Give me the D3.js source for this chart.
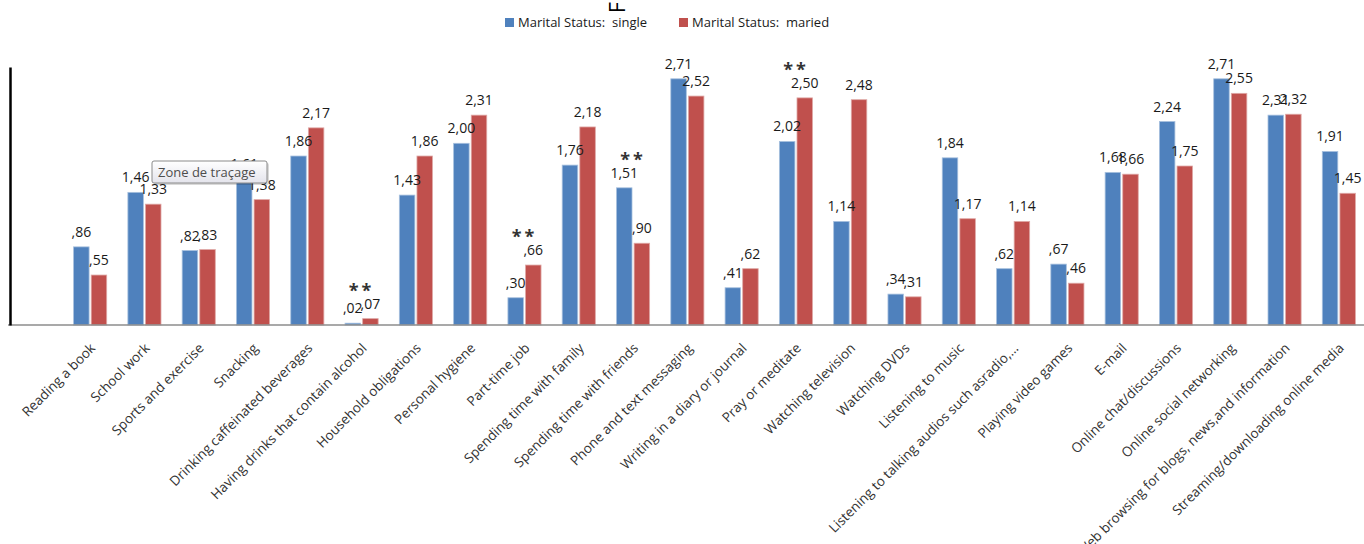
<!DOCTYPE html>
<html>
<head>
<meta charset="utf-8">
<script src="https://cdn.jsdelivr.net/npm/d3@7"></script>
<style>
  body { margin: 0; background: #fff; }
  text { font-family: "Open Sans", "Noto Sans", sans-serif; white-space: pre; }
</style>
</head>
<body>
<svg id="chart"></svg>
<script>
// categories and values
const categories = [
  "Reading a book", "School work", "Sports and exercise", "Snacking",
  "Drinking caffeinated beverages", "Having drinks that contain alcohol",
  "Household obligations", "Personal hygiene", "Part-time job",
  "Spending time with family", "Spending time with friends",
  "Phone and text messaging", "Writing in a diary or journal",
  "Pray or meditate", "Watching television", "Watching DVDs",
  "Listening to music", "Listening to talking audios such asradio,…",
  "Playing video games", "E-mail", "Online chat/discussions",
  "Online social networking", "Web browsing for blogs, news,and information",
  "Streaming/downloading online media"
];
const single = [0.86, 1.46, 0.82, 1.61, 1.86, 0.02, 1.43, 2.00, 0.30, 1.76, 1.51, 2.71,
                0.41, 2.02, 1.14, 0.34, 1.84, 0.62, 0.67, 1.68, 2.24, 2.71, 2.31, 1.91];
const maried = [0.55, 1.33, 0.83, 1.38, 2.17, 0.07, 1.86, 2.31, 0.66, 2.18, 0.90, 2.52,
                0.62, 2.50, 2.48, 0.31, 1.17, 1.14, 0.46, 1.66, 1.75, 2.55, 2.32, 1.45];
const seriesNames = ["Marital Status:  single", "Marital Status:  maried"];
const seriesColors = ["#4F81BD", "#C0504D"];
// categories marked with ** in the picture
const starred = ["Having drinks that contain alcohol", "Part-time job",
                 "Spending time with friends", "Pray or meditate"];

const svgWidth = 1364, svgHeight = 544;
const baseY = 325;

const svg = d3.select("#chart")
    .attr("width", svgWidth)
    .attr("height", svgHeight);

const x0 = d3.scaleBand()
    .domain(categories)
    .range([63, 1366])
    .paddingInner(0.39)
    .paddingOuter(0.195);

const x1 = d3.scaleBand()
    .domain([0, 1])
    .range([0, x0.bandwidth()])
    .paddingInner(0.12);

const y = d3.scaleLinear()
    .domain([0, 2.84])
    .range([baseY, 67]);

const fmt = v => v.toFixed(2).replace(".", ",").replace(/^0/, "");

const rows = categories.map((c, i) => ({ cat: c, vals: [single[i], maried[i]] }));

// cut-off title at the top
svg.append("text")
    .attr("transform", "translate(625,13) rotate(-90)")
    .attr("font-size", 21)
    .attr("fill", "#000")
    .text("F");

// legend
const legend = svg.append("g");
[505, 679].forEach((lx, i) => {
    legend.append("rect")
        .attr("x", lx).attr("y", 18)
        .attr("width", 9).attr("height", 9)
        .attr("fill", seriesColors[i]);
    legend.append("text")
        .attr("x", lx + 13).attr("y", 27)
        .attr("font-size", 13)
        .attr("fill", "#1a1a1a")
        .text(seriesNames[i]);
});

// bars
const groups = svg.selectAll(".grp")
    .data(rows)
    .enter()
    .append("g")
    .attr("class", "grp")
    .attr("transform", d => `translate(${x0(d.cat)},0)`);

groups.selectAll("rect")
    .data(d => d.vals.map((v, k) => ({ v, k })))
    .enter()
    .append("rect")
    .attr("x", d => x1(d.k))
    .attr("y", d => y(d.v))
    .attr("width", x1.bandwidth())
    .attr("height", d => baseY - y(d.v))
    .attr("fill", d => seriesColors[d.k])
    .attr("stroke", d => d.k == 0 ? "#a7c0de" : "#dfa8a6")
    .attr("stroke-width", 0.8);

groups.selectAll(".val")
    .data(d => d.vals.map((v, k) => ({ v, k })))
    .enter()
    .append("text")
    .attr("class", "val")
    .attr("x", d => x1(d.k) + x1.bandwidth() / 2)
    .attr("y", d => y(d.v) - 10)
    .attr("text-anchor", "middle")
    .attr("font-size", 14)
    .attr("fill", "#1a1a1a")
    .text(d => fmt(d.v));

// significance stars
svg.selectAll(".star")
    .data(rows.filter(d => starred.includes(d.cat)))
    .enter()
    .append("text")
    .attr("class", "star")
    .attr("x", d => x0(d.cat) + x0.bandwidth() / 2)
    .attr("y", d => y(d3.max(d.vals)) - 22)
    .attr("text-anchor", "middle")
    .attr("font-size", 18)
    .attr("font-weight", "bold")
    .attr("letter-spacing", 3)
    .attr("fill", "#333")
    .text("**");

// baseline
svg.append("line")
    .attr("x1", 8).attr("x2", svgWidth)
    .attr("y1", baseY).attr("y2", baseY)
    .attr("stroke", "#8c8c8c")
    .attr("stroke-width", 1.5);

// category axis
const xAxis = svg.append("g")
    .attr("transform", `translate(0,${baseY})`)
    .call(d3.axisBottom(x0).tickSize(0));
xAxis.select(".domain").remove();
xAxis.selectAll("text")
    .attr("font-size", 13.5)
    .attr("fill", "#333")
    .style("text-anchor", "end")
    .attr("dy", null)
    .attr("y", 0)
    .attr("transform", "translate(6,24) rotate(-45)");

// value axis (line only)
const yAxis = svg.append("g")
    .attr("transform", "translate(10,0)")
    .call(d3.axisLeft(y).tickValues([]).tickSizeOuter(0));
yAxis.select(".domain")
    .attr("stroke", "#000")
    .attr("stroke-width", 2.5);

// "Zone de traçage" tooltip box
const defs = svg.append("defs");
const grad = defs.append("linearGradient")
    .attr("id", "tipGrad")
    .attr("x1", 0).attr("y1", 0).attr("x2", 0).attr("y2", 1);
grad.append("stop").attr("offset", "0%").attr("stop-color", "#ffffff");
grad.append("stop").attr("offset", "100%").attr("stop-color", "#e4e4ec");

const tip = svg.append("g").attr("transform", "translate(152,161)");
tip.append("rect")
    .attr("x", 2).attr("y", 2)
    .attr("width", 115).attr("height", 22)
    .attr("rx", 2)
    .attr("fill", "#000").attr("opacity", 0.15);
tip.append("rect")
    .attr("width", 115).attr("height", 22)
    .attr("rx", 2)
    .attr("fill", "url(#tipGrad)")
    .attr("stroke", "#8a8a8a");
tip.append("text")
    .attr("x", 6).attr("y", 16)
    .attr("font-size", 13)
    .attr("fill", "#4d4d4d")
    .text("Zone de traçage");
</script>
</body>
</html>
